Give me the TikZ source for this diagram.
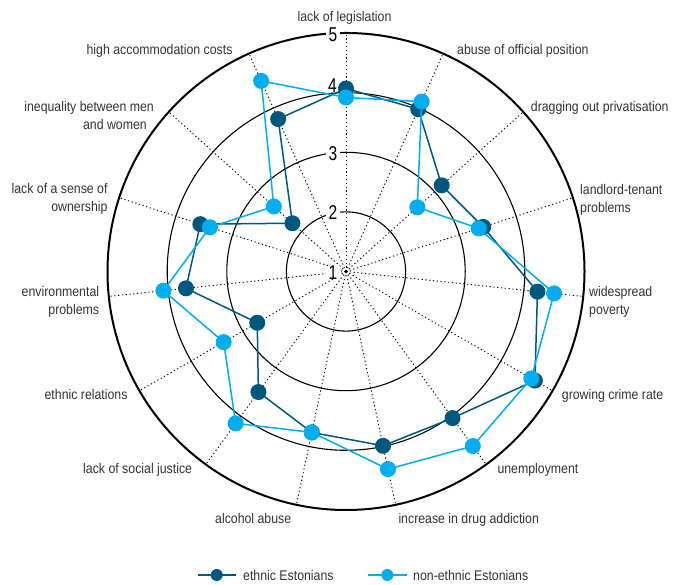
\documentclass[tikz,border=0pt]{standalone}
\usepackage{fontspec}
\setmainfont{Liberation Sans}[FakeStretch=0.88]
\newfontfamily\numfont{Liberation Sans}[FakeStretch=0.78]
\definecolor{darkser}{RGB}{0,88,127}
\definecolor{lightser}{RGB}{0,174,239}
\definecolor{labelgray}{RGB}{50,50,50}
\begin{document}
\begin{tikzpicture}[x=1pt,y=1pt,
  lbl/.style={font=\fontsize{14}{18}\selectfont, text=labelgray, inner sep=0pt},
  ax/.style={line width=0.9pt, dash pattern=on 1.2pt off 2.6pt},
  ring/.style={line width=1.1pt},
  outerring/.style={line width=2pt},
  num/.style={font=\numfont\fontsize{20}{20}\selectfont, fill=white, inner xsep=3pt, inner ysep=0pt},
  dkmark/.style={circle, fill=darkser, inner sep=0pt, minimum size=16pt},
  ltmark/.style={circle, fill=lightser, inner sep=0pt, minimum size=16pt},
  dkline/.style={draw=darkser, line width=1.5pt, line join=round},
  ltline/.style={draw=lightser, line width=1.5pt, line join=round},
]
\useasboundingbox (0,0) rectangle (674,585);
\coordinate (O) at (346,313.5);
% grid
\begin{scope}[shift={(O)}]
  \foreach \i in {0,...,14} { \draw[ax] (0,0) -- ({90-24*\i}:238.5); }
  \draw[ring] (0,0) circle (59.6);
  \draw[ring] (0,0) circle (119.2);
  \draw[ring] (0,0) circle (178.8);
  \draw[outerring] (0,0) circle (238.5);
  \fill (0,0) circle (1.8);
\end{scope}
% scale numbers
\node[num] (n5) at (333,550) {5};
\node[num] (n4) at (332.5,499.5) {4};
\node[num] (n3) at (333,431.7) {3};
\node[num] (n2) at (333,372) {2};
\node[num] (n1) at (333,312.5) {1};
% data coordinates
\begin{scope}[shift={(O)}]
  \foreach \v [count=\i] in {4.07,3.98,3.16,3.42,4.23,4.66,4.04,3.99,3.76,3.50,2.72,3.70,3.57,2.21,3.80}
    { \coordinate (d\i) at ({90-24*(\i-1)}:{(\v-1)*59.6}); }
  \foreach \v [count=\i] in {3.92,4.12,2.61,3.34,4.51,4.59,4.62,4.39,3.76,4.15,3.37,4.08,3.40,2.63,4.50}
    { \coordinate (l\i) at ({90-24*(\i-1)}:{(\v-1)*59.6}); }
\end{scope}
% ethnic Estonians
\draw[dkline] (d1) \foreach \i in {2,...,15} { -- (d\i) } -- cycle;
\foreach \i in {1,...,15} { \node[dkmark] at (d\i) {}; }
% non-ethnic Estonians
\draw[ltline] (l1) \foreach \i in {2,...,15} { -- (l\i) } -- cycle;
\foreach \i in {1,...,15} { \node[ltmark] at (l\i) {}; }
% category labels
\node[lbl, anchor=base] (c1) at (344.5,563.5) {lack of legislation};
\node[lbl, anchor=base west] (c2) at (457,530) {abuse of official position};
\node[lbl, anchor=base west] (c3) at (530.7,473.3) {dragging out privatisation};
\node[lbl, anchor=base west, align=left] (c4) at (580,372) {landlord-tenant\\problems};
\node[lbl, anchor=base west, align=left] (c5) at (589,270.3) {widespread\\poverty};
\node[lbl, anchor=base west] (c6) at (561.7,185.7) {growing crime rate};
\node[lbl, anchor=base west] (c7) at (497.3,111.7) {unemployment};
\node[lbl, anchor=base west] (c8) at (398.3,61) {increase in drug addiction};
\node[lbl, anchor=base west] (c9) at (215,61) {alcohol abuse};
\node[lbl, anchor=base east] (c10) at (192.3,111.7) {lack of social justice};
\node[lbl, anchor=base east] (c11) at (127.7,185.7) {ethnic relations};
\node[lbl, anchor=base east, align=right] (c12) at (99.3,270.3) {environmental\\problems};
\node[lbl, anchor=base east, align=right] (c13) at (107.7,373) {lack of a sense of\\ownership};
\node[lbl, anchor=base east, align=right] (c14) at (154,455.3) {inequality between men\\and women\hspace*{7pt}};
\node[lbl, anchor=base east] (c15) at (232.7,530) {high accommodation costs};
% legend
\coordinate (la) at (198,10);
\coordinate (lb) at (236,10);
\draw[dkline] (la) -- (lb);
\node[dkmark, minimum size=12pt] (lm1) at (216.7,10) {};
\node[lbl, anchor=west] (lt1) at (243,10) {ethnic Estonians};
\coordinate (lc) at (368,10);
\coordinate (ld) at (407,10);
\draw[ltline] (lc) -- (ld);
\node[ltmark, minimum size=12pt] (lm2) at (387.3,10) {};
\node[lbl, anchor=west] (lt2) at (413,10) {non-ethnic Estonians};
\end{tikzpicture}
\end{document}
